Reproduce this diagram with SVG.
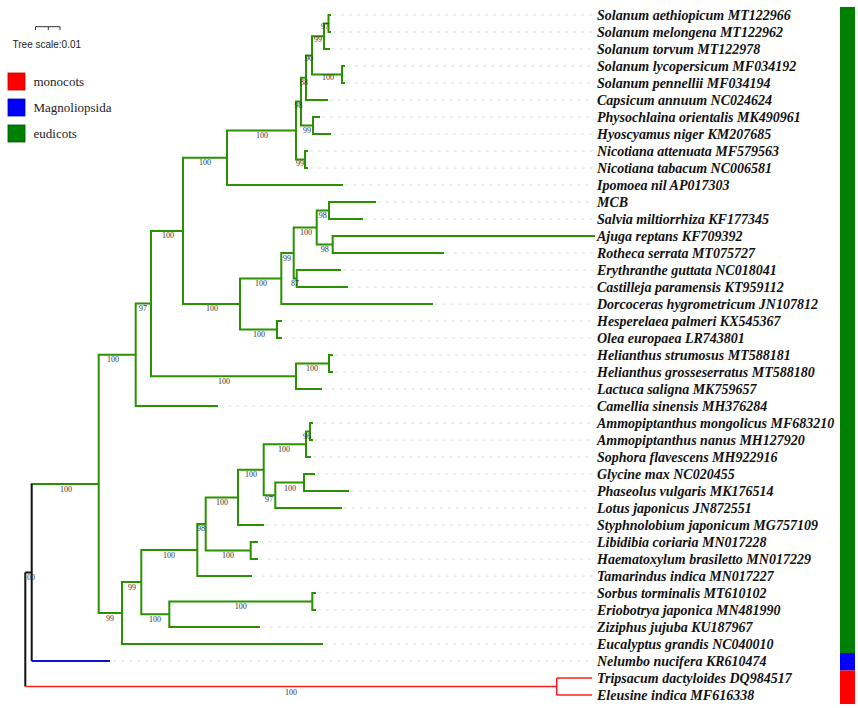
<svg xmlns="http://www.w3.org/2000/svg" width="858" height="708" viewBox="0 0 858 708">
<style>
.br{fill:none;stroke:#2a9200;stroke-width:2;stroke-linecap:square}
.bk{fill:none;stroke:#111;stroke-width:2}
.bl{fill:none;stroke:#1010e0;stroke-width:2}
.rd{fill:none;stroke:#ff2020;stroke-width:1.6}
.ld{fill:none;stroke:#dcdcdc;stroke-width:1;stroke-dasharray:3,5}
.lf{font-family:"Liberation Serif","Times New Roman",serif;font-size:14px;font-weight:bold;font-style:italic;fill:#111}
.bs{font-family:"Liberation Serif","Times New Roman",serif;font-size:8px;fill:#333;text-anchor:middle}
.lg{font-family:"Liberation Serif","Times New Roman",serif;font-size:13px;fill:#222}
</style>
<rect width="858" height="708" fill="#fff"/>
<g id="legend">
<path d="M35.5,30 V26.7 H60 V30 M48.3,26.7 V30" fill="none" stroke="#333" stroke-width="1"/>
<text x="12.5" y="48" font-family="'Liberation Sans',Arial,sans-serif" font-size="10" fill="#222">Tree scale:0.01</text>
<rect x="8" y="73" width="17" height="17" fill="#ff0000" stroke="#b00" stroke-width="0.8"/>
<rect x="8" y="99" width="17" height="17" fill="#0000ff" stroke="#00a" stroke-width="0.8"/>
<rect x="8" y="125" width="17" height="17" fill="#008000" stroke="#005000" stroke-width="0.8"/>
<text class="lg" x="33.5" y="86">monocots</text>
<text class="lg" x="33.5" y="111.5">Magnoliopsida</text>
<text class="lg" x="33.5" y="137.5">eudicots</text>
</g>
<g id="colorbar">
<rect x="840" y="7" width="15" height="646" fill="#008000"/>
<rect x="840" y="653" width="15" height="17.5" fill="#0000ff"/>
<rect x="840" y="670.5" width="15" height="33.5" fill="#ff0000"/>
</g>
<g id="connectors">
<g id="leaders">
<path class="ld" d="M333,15H594M333,32H594M332,49H594M347,66H594M347,83H594M330,100H594M322,117H594M333,134H594M310,151H594M310,168H594M345,185H594M378,202H594M365,219H594M446,253H594M343,270H594M350,287H594M435,304H594M284,321H594M284,338H594M335,355H594M335,372H594M324,389H594M220,406H594M315,423H594M315,440H594M313,457H594M317,474H594M351,491H594M344,508H594M266,525H594M260,542H594M260,559H594M254,576H594M318,593H594M318,610H594M262,627H594M325,644H594M113,661H594"/>
</g>
<path class="br" d="M328.5,15V32M328.5,15H330M328.5,32H330
M324,23.5V49M324,23.5H328.5M324,49H329
M342,66V83M342,66H344M342,83H344
M312,36.25V74.5M312,36.25H324M312,74.5H342
M306,55.4V100M306,55.4H312M306,100H327
M313,117V134M313,117H319M313,134H330
M301,77.7V125.5M301,77.7H306M301,125.5H313
M305,151V168M305,151H307M305,168H307
M296,101.6V159.5M296,101.6H301M296,159.5H305
M227,130.5V185M227,130.5H296M227,185H342
M329,202V219M329,202H375M329,219H362
M332.7,236V253M332.7,236H594M332.7,253H443
M316.7,210.5V244.5M316.7,210.5H329M316.7,244.5H332.7
M296.7,270V287M296.7,270H340M296.7,287H347
M293.7,227.5V278.5M293.7,227.5H316.7M293.7,278.5H296.7
M281.3,253V304M281.3,253H293.7M281.3,304H432
M277,321V338M277,321H281M277,338H281
M240,278.5V329.5M240,278.5H281.3M240,329.5H277
M183,157.8V304M183,157.8H227M183,304H240
M329,355V372M329,355H332M329,372H332
M296,363.5V389M296,363.5H329M296,389H321
M151,230.9V376.25M151,230.9H183M151,376.25H296
M135.7,303.6V406M135.7,303.6H151M135.7,406H217
M310,423V440M310,423H312M310,440H312
M306,431.5V457M306,431.5H310M306,457H310
M304,474V491M304,474H314M304,491H348
M275.3,482.5V508M275.3,482.5H304M275.3,508H341
M263.7,444.25V495.25M263.7,444.25H306M263.7,495.25H275.3
M238,469.75V525M238,469.75H263.7M238,525H263
M250.7,542V559M250.7,542H257M250.7,559H257
M205.7,497.4V550.5M205.7,497.4H238M205.7,550.5H250.7
M197.3,523.9V576M197.3,523.9H205.7M197.3,576H251
M312.3,593V610M312.3,593H315M312.3,610H315
M169.3,601.5V627M169.3,601.5H312.3M169.3,627H259
M141.3,550V614.25M141.3,550H197.3M141.3,614.25H169.3
M122,582.1V644M122,582.1H141.3M122,644H322
M98.7,354.8V613M98.7,354.8H135.7M98.7,613H122
M31.7,483.9H98.7"/>
<path class="bk" d="M31.7,483.9V661M25.3,572.5V686.5M25.3,572.5H31.7"/>
<path class="bl" d="M31.7,661H110"/>
<path class="rd" d="M25.3,686.5H556.7M556.7,678V695M556.7,678H592M556.7,695H592"/>
</g>
<g id="support">
<text class="bs" x="325" y="29">97</text>
<text class="bs" x="318" y="42">99</text>
<text class="bs" x="309" y="61">90</text>
<text class="bs" x="328" y="79.5">100</text>
<text class="bs" x="304" y="85">88</text>
<text class="bs" x="298.5" y="108">98</text>
<text class="bs" x="307" y="133">99</text>
<text class="bs" x="300" y="165.5">99</text>
<text class="bs" x="262" y="138">100</text>
<text class="bs" x="205" y="165">100</text>
<text class="bs" x="168" y="238">100</text>
<text class="bs" x="212" y="311">100</text>
<text class="bs" x="261" y="286">100</text>
<text class="bs" x="259" y="337">100</text>
<text class="bs" x="287" y="261">99</text>
<text class="bs" x="306" y="234.5">100</text>
<text class="bs" x="322.7" y="217.5">98</text>
<text class="bs" x="324.7" y="252">98</text>
<text class="bs" x="295" y="285.5">87</text>
<text class="bs" x="312" y="371">100</text>
<text class="bs" x="224" y="384">100</text>
<text class="bs" x="143" y="311">97</text>
<text class="bs" x="113" y="362">100</text>
<text class="bs" x="66" y="492">100</text>
<text class="bs" x="110" y="621">99</text>
<text class="bs" x="132" y="590">99</text>
<text class="bs" x="155" y="622">100</text>
<text class="bs" x="240.7" y="609">100</text>
<text class="bs" x="169" y="558">100</text>
<text class="bs" x="201" y="531">98</text>
<text class="bs" x="228" y="558">100</text>
<text class="bs" x="222" y="505">100</text>
<text class="bs" x="251" y="477">100</text>
<text class="bs" x="284" y="452">100</text>
<text class="bs" x="307" y="439">96</text>
<text class="bs" x="269" y="502">97</text>
<text class="bs" x="290" y="491">100</text>
<text class="bs" x="29" y="580">100</text>
<text class="bs" x="291" y="695">100</text>
</g>
<g id="leaf-01"><text class="lf" x="597" y="20">Solanum aethiopicum MT122966</text></g>
<g id="leaf-02"><text class="lf" x="597" y="37">Solanum melongena MT122962</text></g>
<g id="leaf-03"><text class="lf" x="597" y="54">Solanum torvum MT122978</text></g>
<g id="leaf-04"><text class="lf" x="597" y="71">Solanum lycopersicum MF034192</text></g>
<g id="leaf-05"><text class="lf" x="597" y="88">Solanum pennellii MF034194</text></g>
<g id="leaf-06"><text class="lf" x="597" y="105">Capsicum annuum NC024624</text></g>
<g id="leaf-07"><text class="lf" x="597" y="122">Physochlaina orientalis MK490961</text></g>
<g id="leaf-08"><text class="lf" x="597" y="139">Hyoscyamus niger KM207685</text></g>
<g id="leaf-09"><text class="lf" x="597" y="156">Nicotiana attenuata MF579563</text></g>
<g id="leaf-10"><text class="lf" x="597" y="173">Nicotiana tabacum NC006581</text></g>
<g id="leaf-11"><text class="lf" x="597" y="190">Ipomoea nil AP017303</text></g>
<g id="leaf-12"><text class="lf" x="597" y="207">MCB</text></g>
<g id="leaf-13"><text class="lf" x="597" y="224">Salvia miltiorrhiza KF177345</text></g>
<g id="leaf-14"><text class="lf" x="597" y="241">Ajuga reptans KF709392</text></g>
<g id="leaf-15"><text class="lf" x="597" y="258">Rotheca serrata MT075727</text></g>
<g id="leaf-16"><text class="lf" x="597" y="275">Erythranthe guttata NC018041</text></g>
<g id="leaf-17"><text class="lf" x="597" y="292">Castilleja paramensis KT959112</text></g>
<g id="leaf-18"><text class="lf" x="597" y="309">Dorcoceras hygrometricum JN107812</text></g>
<g id="leaf-19"><text class="lf" x="597" y="326">Hesperelaea palmeri KX545367</text></g>
<g id="leaf-20"><text class="lf" x="597" y="343">Olea europaea LR743801</text></g>
<g id="leaf-21"><text class="lf" x="597" y="360">Helianthus strumosus MT588181</text></g>
<g id="leaf-22"><text class="lf" x="597" y="377">Helianthus grosseserratus MT588180</text></g>
<g id="leaf-23"><text class="lf" x="597" y="394">Lactuca saligna MK759657</text></g>
<g id="leaf-24"><text class="lf" x="597" y="411">Camellia sinensis MH376284</text></g>
<g id="leaf-25"><text class="lf" x="597" y="428">Ammopiptanthus mongolicus MF683210</text></g>
<g id="leaf-26"><text class="lf" x="597" y="445">Ammopiptanthus nanus MH127920</text></g>
<g id="leaf-27"><text class="lf" x="597" y="462">Sophora flavescens MH922916</text></g>
<g id="leaf-28"><text class="lf" x="597" y="479">Glycine max NC020455</text></g>
<g id="leaf-29"><text class="lf" x="597" y="496">Phaseolus vulgaris MK176514</text></g>
<g id="leaf-30"><text class="lf" x="597" y="513">Lotus japonicus JN872551</text></g>
<g id="leaf-31"><text class="lf" x="597" y="530">Styphnolobium japonicum MG757109</text></g>
<g id="leaf-32"><text class="lf" x="597" y="547">Libidibia coriaria MN017228</text></g>
<g id="leaf-33"><text class="lf" x="597" y="564">Haematoxylum brasiletto MN017229</text></g>
<g id="leaf-34"><text class="lf" x="597" y="581">Tamarindus indica MN017227</text></g>
<g id="leaf-35"><text class="lf" x="597" y="598">Sorbus torminalis MT610102</text></g>
<g id="leaf-36"><text class="lf" x="597" y="615">Eriobotrya japonica MN481990</text></g>
<g id="leaf-37"><text class="lf" x="597" y="632">Ziziphus jujuba KU187967</text></g>
<g id="leaf-38"><text class="lf" x="597" y="649">Eucalyptus grandis NC040010</text></g>
<g id="leaf-39"><text class="lf" x="597" y="666">Nelumbo nucifera KR610474</text></g>
<g id="leaf-40"><text class="lf" x="597" y="683">Tripsacum dactyloides DQ984517</text></g>
<g id="leaf-41"><text class="lf" x="597" y="700">Eleusine indica MF616338</text></g>
</svg>
